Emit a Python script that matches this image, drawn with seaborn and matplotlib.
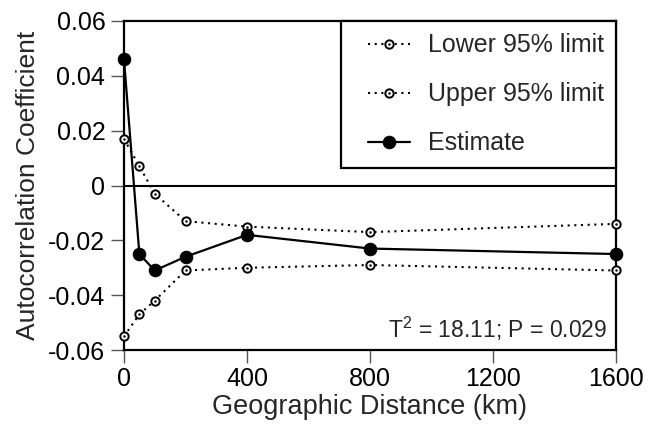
import matplotlib
matplotlib.use("Agg")
import matplotlib.pyplot as plt
import seaborn as sns
import numpy as np
from matplotlib.legend_handler import HandlerTuple

# ---- data ----
distance_km = [0, 50, 100, 200, 400, 800, 1600]
estimate = [0.046, -0.025, -0.031, -0.026, -0.018, -0.023, -0.025]
upper_95 = [0.017, 0.007, -0.003, -0.013, -0.015, -0.017, -0.014]
lower_95 = [-0.055, -0.047, -0.042, -0.031, -0.030, -0.029, -0.031]
x_ticks = [0, 400, 800, 1200, 1600]
x_tick_labels = ["0", "400", "800", "1200", "1600"]
y_ticks = [-0.06, -0.04, -0.02, 0, 0.02, 0.04, 0.06]
y_tick_labels = ["-0.06", "-0.04", "-0.02", "0", "0.02", "0.04", "0.06"]
stat_text = r"T$^2$ = 18.11; P = 0.029"

sns.set_theme(style="white")
plt.rcParams["font.family"] = ["Liberation Sans", "DejaVu Sans"]
plt.rcParams["mathtext.fontset"] = "custom"
plt.rcParams["mathtext.rm"] = "Liberation Sans"
plt.rcParams["mathtext.it"] = "Liberation Sans"
plt.rcParams["mathtext.default"] = "regular"

fig = plt.figure(figsize=(6.57, 4.29), dpi=100)
ax = fig.add_axes([124 / 657, 1 - 350 / 429, 492 / 657, 329 / 429])

ax.axhline(0, color="black", lw=1.5, zorder=1)

dot_style = (0, (1, 2.2))
handles = []
for vals in (lower_95, upper_95):
    sns.lineplot(x=distance_km, y=vals, ax=ax, color="black", lw=1.5,
                 linestyle=dot_style, marker="o", markersize=6,
                 markerfacecolor="white", markeredgecolor="black",
                 markeredgewidth=1.4, zorder=3, clip_on=False)
    ln = ax.lines[-1]
    sns.lineplot(x=distance_km, y=vals, ax=ax, color="black", linestyle="",
                 marker="o", markersize=1.8, markeredgewidth=0, zorder=4,
                 clip_on=False)
    dt = ax.lines[-1]
    handles.append((ln, dt))

sns.lineplot(x=distance_km, y=estimate, ax=ax, color="black", lw=1.6,
             marker="o", markersize=9, markerfacecolor="black",
             markeredgecolor="black", zorder=5, clip_on=False)
handles.append((ax.lines[-1],))

ax.set_xlim(0, 1600)
ax.set_ylim(-0.06, 0.06)
ax.set_xticks(x_ticks)
ax.set_xticklabels(x_tick_labels)
ax.set_yticks(y_ticks)
ax.set_yticklabels(y_tick_labels)
ax.tick_params(axis="both", which="major", direction="out", length=9.5,
               width=1, color="#555555", labelsize=18, pad=3,
               bottom=True, left=True, labelcolor="black")
ax.tick_params(axis="y", pad=4)
for s in ax.spines.values():
    s.set_color("black")
    s.set_linewidth(1.6)

ax.set_xlabel("Geographic Distance (km)", fontsize=19.5, labelpad=2)
ax.set_ylabel("Autocorrelation Coefficient", fontsize=19, labelpad=6)

ax.text(0.982, 0.036, stat_text, transform=ax.transAxes, ha="right",
        va="baseline", fontsize=16.5)


class ShiftedTuple(HandlerTuple):
    def __init__(self, shift=0, **kw):
        super().__init__(**kw)
        self.shift = shift

    def create_artists(self, legend, orig_handle, xdescent, ydescent, width,
                       height, fontsize, trans):
        return super().create_artists(legend, orig_handle,
                                      xdescent - self.shift, ydescent,
                                      width - self.shift, height, fontsize,
                                      trans)


leg = ax.legend(handles, ["Lower 95% limit", "Upper 95% limit", "Estimate"],
                loc="upper right", bbox_to_anchor=(1, 1), borderaxespad=0,
                fontsize=18, frameon=True, fancybox=False, framealpha=1,
                edgecolor="black", borderpad=0.5, labelspacing=1.0,
                handlelength=2.25, handletextpad=0.7, numpoints=1,
                handler_map={tuple: ShiftedTuple(shift=10, ndivide=1)})
leg.get_frame().set_linewidth(1.6)
leg.set_zorder(10)

fig.savefig("out.png", dpi=100)
